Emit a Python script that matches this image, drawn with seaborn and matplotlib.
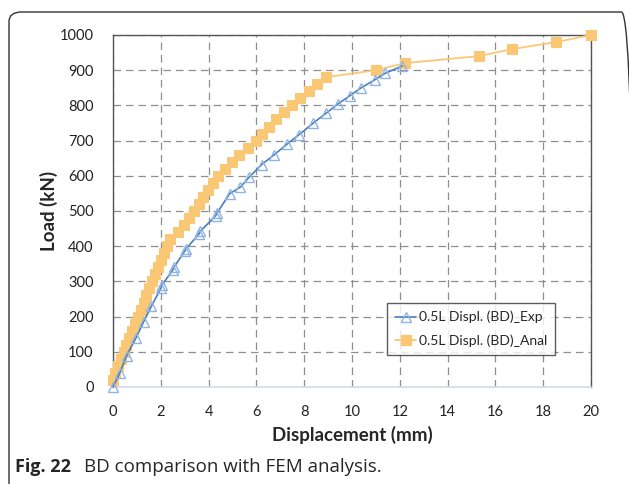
import matplotlib
matplotlib.use("Agg")
import matplotlib.pyplot as plt
from matplotlib.patches import FancyBboxPatch
from matplotlib.lines import Line2D
import numpy as np
import pandas as pd
import seaborn as sns

# Experimental curve (displacement mm, load kN)
exp_disp = [0.0, 0.29, 0.57, 0.95, 1.28, 1.61, 2.0, 2.05, 2.5, 2.55, 3.0, 3.05,
            3.6, 3.65, 4.3, 4.35, 4.88, 5.33, 5.71, 6.22, 6.75, 7.3, 7.79, 8.38,
            8.9, 9.43, 9.9, 10.36, 10.96, 11.38, 12.1]
exp_load = [0, 41, 89, 138, 185, 230, 280, 290, 332, 340, 386, 392,
            435, 442, 487, 494, 549, 568, 597, 632, 660, 691, 717, 750,
            777, 805, 827, 849, 873, 891, 912]

# Analytical (FEM) curve
anal_disp = [0.0, 0.08, 0.2, 0.33, 0.44, 0.56, 0.68, 0.8, 0.92, 1.04, 1.16, 1.28,
             1.4, 1.52, 1.64, 1.76, 1.88, 2.0, 2.12, 2.24, 2.4, 2.72, 2.95, 3.18,
             3.4, 3.58, 3.77, 3.96, 4.17, 4.4, 4.67, 4.96, 5.29, 5.63, 5.97, 6.25,
             6.54, 6.83, 7.14, 7.48, 7.83, 8.18, 8.54, 8.9, 11.0, 12.2, 15.3, 16.7,
             18.55, 20.0]
anal_load = [20, 40, 60, 80, 100, 120, 140, 160, 180, 200, 220, 240,
             260, 280, 300, 320, 340, 360, 380, 400, 420, 440, 460, 480,
             500, 520, 540, 560, 580, 600, 620, 640, 660, 680, 700, 720,
             740, 760, 780, 800, 820, 840, 860, 880, 900, 920, 940, 960,
             980, 1000]

labels = ["0.5L Displ. (BD)_Exp", "0.5L Displ. (BD)_Anal"]
caption_bold = "Fig. 22"
caption_text = "BD comparison with FEM analysis."

blue_line = "#4a7ebb"
blue_mark = "#8fb4e3"
orange = "#fac774"

sns.set_style("white")
plt.rcParams["font.family"] = ["Lato", "DejaVu Sans"]

exp_df = pd.DataFrame({"disp": exp_disp, "load": exp_load})
anal_df = pd.DataFrame({"disp": anal_disp, "load": anal_load})

fig = plt.figure(figsize=(6.29, 4.84), dpi=100)
ax = fig.add_axes([113 / 629, 1 - 387 / 484, (591 - 113) / 629, (387 - 35) / 484])

# outer caption frame
frame = FancyBboxPatch((9 / 629, -8 / 484), 625 / 629, 480 / 484,
                       boxstyle="round,pad=0,rounding_size=0.02",
                       transform=fig.transFigure, fill=False,
                       edgecolor="#333333", linewidth=1.0, clip_on=False)
fig.patches.append(frame)

sns.lineplot(data=anal_df, x="disp", y="load", sort=False, ax=ax, color=orange,
             linewidth=1.3, marker="s", markersize=7, markerfacecolor=orange,
             markeredgecolor=orange, zorder=3, clip_on=False)
sns.lineplot(data=exp_df, x="disp", y="load", sort=False, ax=ax, color=blue_line,
             linewidth=1.2, marker="^", markersize=6.5, markerfacecolor="none",
             markeredgecolor=blue_mark, markeredgewidth=1.0, zorder=4, clip_on=False)

ax.set_xlim(0, 20)
ax.set_ylim(0, 1000)
ax.set_xticks(np.arange(0, 21, 2))
ax.set_yticks(np.arange(0, 1001, 100))
ax.grid(True, linestyle=(0, (6, 4)), color="#8f8f8f", linewidth=0.9)
ax.tick_params(axis="both", labelsize=10.5, colors="#222222", length=0)
ax.tick_params(axis="y", pad=14)
ax.tick_params(axis="x", pad=13)
for s in ["top", "left", "right"]:
    ax.spines[s].set_color("#555555")
    ax.spines[s].set_linewidth(1.0)
ax.spines["bottom"].set_color("#d5dae3")
ax.spines["bottom"].set_linewidth(1.2)

ax.set_xlabel("Displacement (mm)", fontsize=13.5, fontweight="bold", labelpad=5)
ax.set_ylabel("Load (kN)", fontsize=13.5, fontweight="bold", labelpad=1)

handles = [
    Line2D([], [], color=blue_line, linewidth=1.2, marker="^", markersize=6.5,
           markerfacecolor="none", markeredgecolor=blue_mark),
    Line2D([], [], color=orange, linewidth=1.3, marker="s", markersize=7,
           markerfacecolor=orange, markeredgecolor=orange),
]
leg = ax.legend(handles, labels, loc="lower right", bbox_to_anchor=(0.94, 0.07),
                fontsize=10, frameon=True, fancybox=False, edgecolor="#333333",
                handlelength=1.5, handletextpad=0.2, labelspacing=0.8,
                borderpad=0.6)
leg.get_frame().set_linewidth(1.0)

fig.text(15 / 629, 1 - 467 / 484, caption_bold, fontsize=13, fontweight="bold",
         va="center", ha="left", family=["Open Sans", "DejaVu Sans"])
fig.text(84 / 629, 1 - 467 / 484, caption_text, fontsize=13.5,
         va="center", ha="left", family=["Open Sans", "DejaVu Sans"])

fig.savefig("out.png", dpi=100)
